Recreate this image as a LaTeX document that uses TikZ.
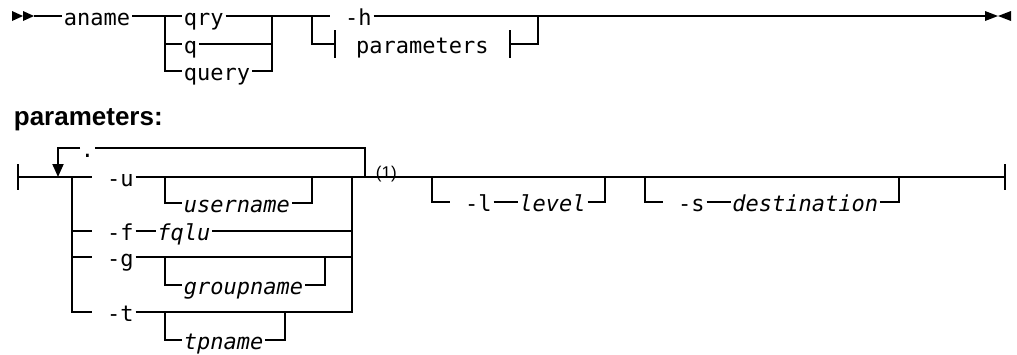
\documentclass[tikz,border=0pt]{standalone}
\usepackage{fontspec}
\setmainfont{Liberation Sans}
\newfontfamily\synfont{DejaVu Sans Mono}
\usetikzlibrary{arrows.meta,positioning}

\begin{document}
\begin{tikzpicture}[x=1pt,y=-1pt,line width=1.8pt,>={Triangle[length=13pt,width=11pt]},
    word/.style={font=\synfont\fontsize{22}{26}\selectfont,inner xsep=1pt,inner ysep=0pt,
      text height=20pt,text depth=2pt,anchor=west},
    var/.style={word,font=\synfont\itshape\fontsize{22}{26}\selectfont},
    note/.style={font=\fontsize{17}{19}\selectfont,inner sep=0pt,anchor=base west}]
        \useasboundingbox (0,0) rectangle (1017,354);
        % main statement
        \fill (12,11) -- (23,16) -- (12,21) -- cycle;
        \fill (23,11) -- (34,16) -- (23,21) -- cycle;
        \coordinate (start) at (34,16);
        \node[word] (aname) at (62,16) {aname};
        \draw (start) -- (aname.west);
        \coordinate (j1) at (165,16);
        \coordinate (j2) at (272,16);
        \node[word] (qry) at (182,16) {qry};
        \node[word] (q) at (182,44) {q};
        \node[word] (query) at (182,71) {query};
        \draw (aname.east) -- (qry.west);
        \draw (j1) |- (q.west);
        \draw (j1) |- (query.west);
        \draw (qry.east) -- (j2);
        \draw (q.east) -| (j2);
        \draw (query.east) -| (j2);
        \coordinate (j3) at (312,16);
        \coordinate (j4) at (538,16);
        \node[word] (hopt) at (330,16) {~-h};
        \node[word,inner xsep=7pt] (pref) at (335,44) {\phantom{p}parameters\phantom{p}};
        \draw (j2) -- (hopt.west);
        \draw (j3) |- (pref.west);
        \draw ([yshift=14pt]pref.west) -- ([yshift=-14pt]pref.west);
        \draw ([yshift=14pt]pref.east) -- ([yshift=-14pt]pref.east);
        \draw (pref.east) -| (j4);
        \coordinate (stop) at (985,16);
        \draw (hopt.east) -- (stop);
        \fill (985,11) -- (998,16) -- (985,21) -- cycle;
        \fill (1011,11) -- (998,16) -- (1011,21) -- cycle;
        % parameters fragment
        \node[font=\bfseries\fontsize{26}{30}\selectfont,inner sep=0pt,anchor=base west] (phead) at (13,125) {parameters:};
        \coordinate (pstart) at (18,177);
        \coordinate (pend) at (1005,177);
        \draw ([yshift=13pt]pstart) -- ([yshift=-13pt]pstart);
        \draw ([yshift=13pt]pend) -- ([yshift=-13pt]pend);
        \coordinate (sepl) at (72,177);
        \coordinate (sepr) at (352,177);
        \coordinate (loopl) at (58,177);
        \coordinate (loopr) at (365,177);
        \node[word,inner xsep=0pt] (dot) at (80,148) {.};
        \draw[->] (dot.west) -| (loopl);
        \draw (dot.east) -| (loopr);
        \node[word] (uopt) at (92,177) {~-u};
        \node[word] (fopt) at (92,231) {~-f};
        \node[var,right=20pt of fopt] (fqlu) {fqlu};
        \node[word] (gopt) at (92,257) {~-g};
        \node[word] (topt) at (92,312) {~-t};
        \draw (pstart) -- (uopt.west);
        \draw (sepl) |- (fopt.west);
        \draw (sepl) |- (gopt.west);
        \draw (sepl) |- (topt.west);
        \draw (fopt.east) -- (fqlu.west);
        \draw (fqlu.east) -| (sepr);
        \draw (gopt.east) -| (sepr);
        \draw (topt.east) -| (sepr);
        \coordinate (ul) at (165,177);
        \coordinate (ur) at (312,177);
        \node[var] (username) at (182,203) {username};
        \draw (ul) |- (username.west);
        \draw (username.east) -| (ur);
        \coordinate (gl) at (165,257);
        \coordinate (gr) at (325,257);
        \node[var] (groupname) at (182,285) {groupname};
        \draw (gl) |- (groupname.west);
        \draw (groupname.east) -| (gr);
        \coordinate (tl) at (165,312);
        \coordinate (tr) at (285,312);
        \node[var] (tpname) at (182,340) {tpname};
        \draw (tl) |- (tpname.west);
        \draw (tpname.east) -| (tr);
        \draw (uopt.east) -- (pend);
        \node[note] (fn) at (375,178) {(1)};
        \coordinate (ll) at (432,177);
        \coordinate (lr) at (605,177);
        \node[word] (lopt) at (450,202) {~-l};
        \node[var,right=24pt of lopt] (level) {level};
        \draw (ll) |- (lopt.west);
        \draw (lopt.east) -- (level.west);
        \draw (level.east) -| (lr);
        \coordinate (sl) at (645,177);
        \coordinate (sr) at (899,177);
        \node[word] (sopt) at (663,202) {~-s};
        \node[var,right=24pt of sopt] (dest) {destination};
        \draw (sl) |- (sopt.west);
        \draw (sopt.east) -- (dest.west);
        \draw (dest.east) -| (sr);
    \end{tikzpicture}
\end{document}
